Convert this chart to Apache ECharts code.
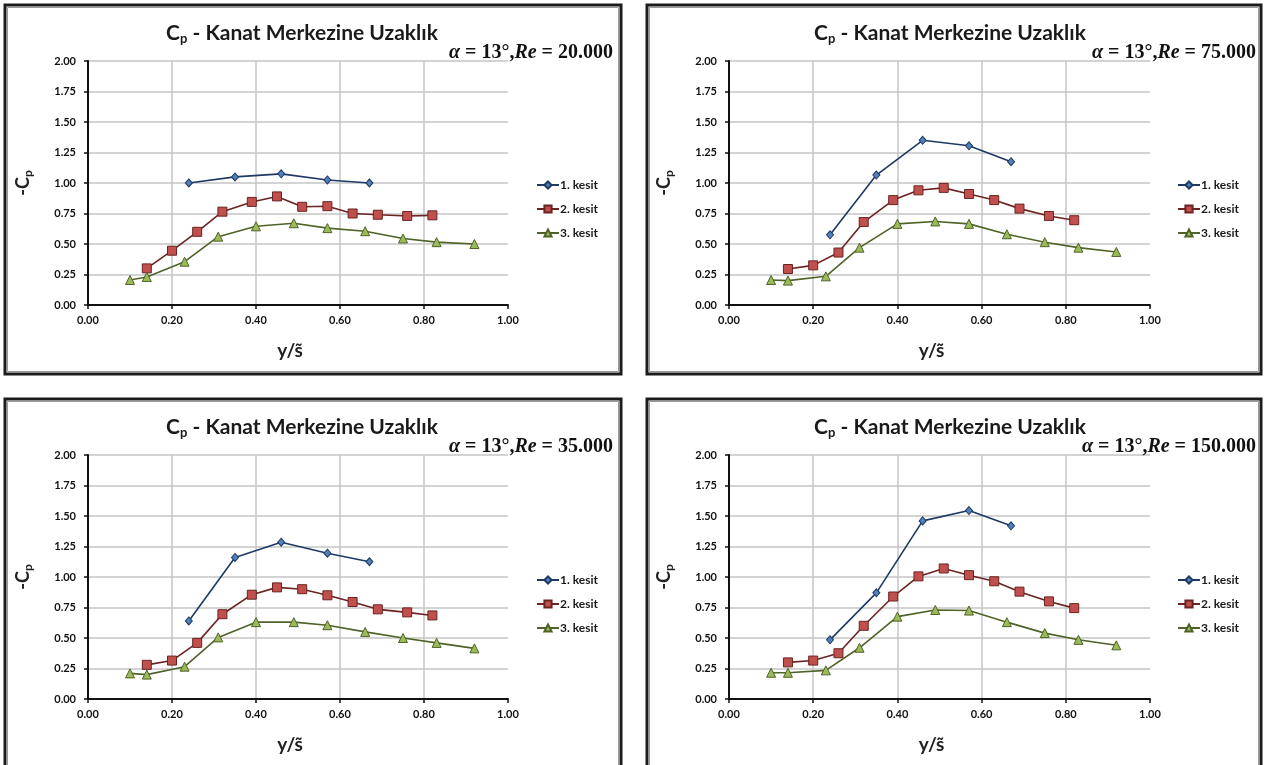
<!DOCTYPE html>
<html>
<head>
<meta charset="utf-8">
<script src="https://cdn.jsdelivr.net/npm/echarts@6/dist/echarts.min.js"></script>
<style>
html,body{margin:0;padding:0;background:#fff;}
#c{width:1264px;height:765px;}
</style>
</head>
<body>
<div id="c"></div>
<script>
// ---- data ----
const seriesNames = ['1. kesit', '2. kesit', '3. kesit'];
const reLabels = ['20.000', '75.000', '35.000', '150.000'];
const xTickLabels = ['0.00', '0.20', '0.40', '0.60', '0.80', '1.00'];
const yTickLabels = ['0.00', '0.25', '0.50', '0.75', '1.00', '1.25', '1.50', '1.75', '2.00'];

const xK1 = [0.24, 0.35, 0.46, 0.57, 0.67];
const xK2 = [0.14, 0.20, 0.26, 0.32, 0.39, 0.45, 0.51, 0.57, 0.63, 0.69, 0.76, 0.82];
const xK3 = [0.10, 0.14, 0.23, 0.31, 0.40, 0.49, 0.57, 0.66, 0.75, 0.83, 0.92];

const re20K1 = [1.00, 1.05, 1.075, 1.025, 1.00];
const re20K2 = [0.30, 0.445, 0.60, 0.765, 0.845, 0.89, 0.805, 0.81, 0.75, 0.74, 0.73, 0.735];
const re20K3 = [0.205, 0.23, 0.355, 0.56, 0.645, 0.67, 0.63, 0.605, 0.545, 0.515, 0.50];

const re75K1 = [0.575, 1.065, 1.35, 1.305, 1.175];
const re75K2 = [0.295, 0.325, 0.43, 0.68, 0.86, 0.94, 0.96, 0.91, 0.86, 0.79, 0.73, 0.695];
const re75K3 = [0.205, 0.20, 0.235, 0.47, 0.665, 0.685, 0.665, 0.58, 0.515, 0.47, 0.435];

const re35K1 = [0.64, 1.16, 1.285, 1.195, 1.125];
const re35K2 = [0.28, 0.315, 0.46, 0.695, 0.855, 0.915, 0.90, 0.85, 0.795, 0.735, 0.71, 0.685];
const re35K3 = [0.21, 0.20, 0.265, 0.505, 0.63, 0.63, 0.605, 0.55, 0.50, 0.46, 0.415];

const re150K1 = [0.485, 0.87, 1.46, 1.545, 1.42];
const re150K2 = [0.30, 0.315, 0.375, 0.60, 0.84, 1.005, 1.07, 1.015, 0.965, 0.88, 0.80, 0.745];
const re150K3 = [0.215, 0.215, 0.235, 0.42, 0.675, 0.73, 0.725, 0.63, 0.54, 0.485, 0.44];

const panelData = [
  [re20K1, re20K2, re20K3],
  [re75K1, re75K2, re75K3],
  [re35K1, re35K2, re35K3],
  [re150K1, re150K2, re150K3]
];
const xData = [xK1, xK2, xK3];

// ---- layout ----
const panels = [
  {gl: 88,  gt: 61,  gw: 420, gh: 244, bx: 5,   by: 5,   bw: 616, bh: 369, tx: 302, ty: 21,  sx: 613,  sy: 43,  lx: 536,  ly: 179},
  {gl: 729, gt: 61,  gw: 421, gh: 244, bx: 647, by: 5,   bw: 614, bh: 369, tx: 950, ty: 21,  sx: 1256, sy: 43,  lx: 1177, ly: 179},
  {gl: 88,  gt: 455, gw: 420, gh: 244, bx: 5,   by: 399, bw: 616, bh: 380, tx: 302, ty: 415, sx: 613,  sy: 437, lx: 536,  ly: 574},
  {gl: 729, gt: 455, gw: 421, gh: 244, bx: 647, by: 399, bw: 614, bh: 380, tx: 950, ty: 415, sx: 1256, sy: 437, lx: 1177, ly: 574}
];

const styles = [
  {symbol: 'diamond', size: [7, 8], fill: '#4F81BD', line: '#1F3864'},
  {symbol: 'rect', size: 9, fill: '#C0504D', line: '#6B2321'},
  {symbol: 'triangle', size: 9, fill: '#9BBB59', line: '#4F6228'}
];

const sansFont = 'Lato, "Open Sans", sans-serif';
const serifFont = '"Liberation Serif", "DejaVu Serif", serif';

const grids = [], xAxes = [], yAxes = [], series = [], titles = [], legends = [], graphics = [];

panels.forEach((p, gi) => {
  grids.push({left: p.gl, top: p.gt, width: p.gw, height: p.gh, containLabel: false});
  xAxes.push({
    type: 'value', gridIndex: gi, min: 0, max: 1, interval: 0.2,
    name: 'y/s\u0303', nameLocation: 'middle', nameGap: 36,
    nameTextStyle: {fontFamily: sansFont, fontWeight: 'bold', fontSize: 19, color: '#222', padding: [0, 16, 0, 0]},
    axisLine: {show: true, onZero: false, lineStyle: {color: '#111', width: 2}},
    axisTick: {show: true, inside: false, length: 4, lineStyle: {color: '#111', width: 1.5}},
    axisLabel: {formatter: v => xTickLabels[Math.round(v / 0.2)], fontFamily: sansFont, fontWeight: 'bold', fontSize: 11, color: '#111', margin: 10},
    splitLine: {show: true, lineStyle: {color: ['transparent', '#c4c4c4', '#c4c4c4', '#c4c4c4', '#c4c4c4', 'transparent'], width: 1.5}}
  });
  yAxes.push({
    type: 'value', gridIndex: gi, min: 0, max: 2, interval: 0.25,
    name: '{a|-C}{s|p}', nameLocation: 'middle', nameGap: 54, nameRotate: 90,
    nameTextStyle: {rich: {
      a: {fontFamily: sansFont, fontWeight: 'bold', fontSize: 18, color: '#222'},
      s: {fontFamily: sansFont, fontWeight: 'bold', fontSize: 12, color: '#222', verticalAlign: 'bottom', padding: [9, 0, 0, 0]}
    }},
    axisLine: {show: true, onZero: false, lineStyle: {color: '#111', width: 2}},
    axisTick: {show: true, inside: false, length: 4, lineStyle: {color: '#111', width: 1.5}},
    axisLabel: {formatter: v => yTickLabels[Math.round(v / 0.25)], fontFamily: sansFont, fontWeight: 'bold', fontSize: 11, color: '#111', margin: 12},
    splitLine: {show: true, lineStyle: {color: '#c4c4c4', width: 1.5}}
  });
  panelData[gi].forEach((ys, si) => {
    const st = styles[si];
    series.push({
      type: 'line', name: seriesNames[si], xAxisIndex: gi, yAxisIndex: gi,
      data: xData[si].map((x, i) => [x, ys[i]]),
      symbol: st.symbol, symbolSize: st.size, showSymbol: true,
      lineStyle: {color: st.line, width: 1.6},
      itemStyle: {color: st.fill, borderColor: st.line, borderWidth: 1},
      animation: false, z: 3 + si
    });
  });
  titles.push({
    text: '{c|C}{s|p}{c| - Kanat Merkezine Uzaklık}',
    left: p.tx, top: p.ty, textAlign: 'center', padding: 0,
    textStyle: {rich: {
      c: {fontFamily: sansFont, fontWeight: 'bold', fontSize: 21, color: '#1a1a1a'},
      s: {fontFamily: sansFont, fontWeight: 'bold', fontSize: 13, color: '#1a1a1a', padding: [11, 0, 0, 0]}
    }}
  });
  titles.push({
    text: '{i|\u03b1}{r| = 13°,}{bi|Re}{r| = ' + reLabels[gi] + '}',
    left: p.sx, top: p.sy, textAlign: 'right', padding: 0,
    textStyle: {rich: {
      i: {fontFamily: serifFont, fontStyle: 'italic', fontWeight: 'bold', fontSize: 20, color: '#111'},
      bi: {fontFamily: serifFont, fontStyle: 'italic', fontWeight: 'bold', fontSize: 20, color: '#111'},
      r: {fontFamily: serifFont, fontWeight: 'bold', fontSize: 20, color: '#111'}
    }}
  });
  legends.push({
    data: seriesNames, orient: 'vertical', left: p.lx, top: p.ly, padding: 0,
    itemWidth: 22, itemHeight: 9, itemGap: 12,
    textStyle: {fontFamily: sansFont, fontWeight: 'bold', fontSize: 12, color: '#1a1a1a', padding: [0, 0, 0, -4]},
    selectedMode: false
  });
  graphics.push({
    type: 'rect', shape: {x: p.bx, y: p.by, width: p.bw, height: p.bh},
    style: {fill: 'none', stroke: '#1c1c1c', lineWidth: 3}, z: 100
  });
  graphics.push({
    type: 'rect', shape: {x: p.bx + 2.5, y: p.by + 2.5, width: p.bw - 5, height: p.bh - 5},
    style: {fill: 'none', stroke: '#9a9a9a', lineWidth: 1}, z: 100
  });
});

const chart = echarts.init(document.getElementById('c'), null, {renderer: 'canvas'});
chart.setOption({
  backgroundColor: '#fff',
  animation: false,
  title: titles,
  legend: legends,
  grid: grids,
  xAxis: xAxes,
  yAxis: yAxes,
  series: series,
  graphic: graphics
});
</script>
</body>
</html>
